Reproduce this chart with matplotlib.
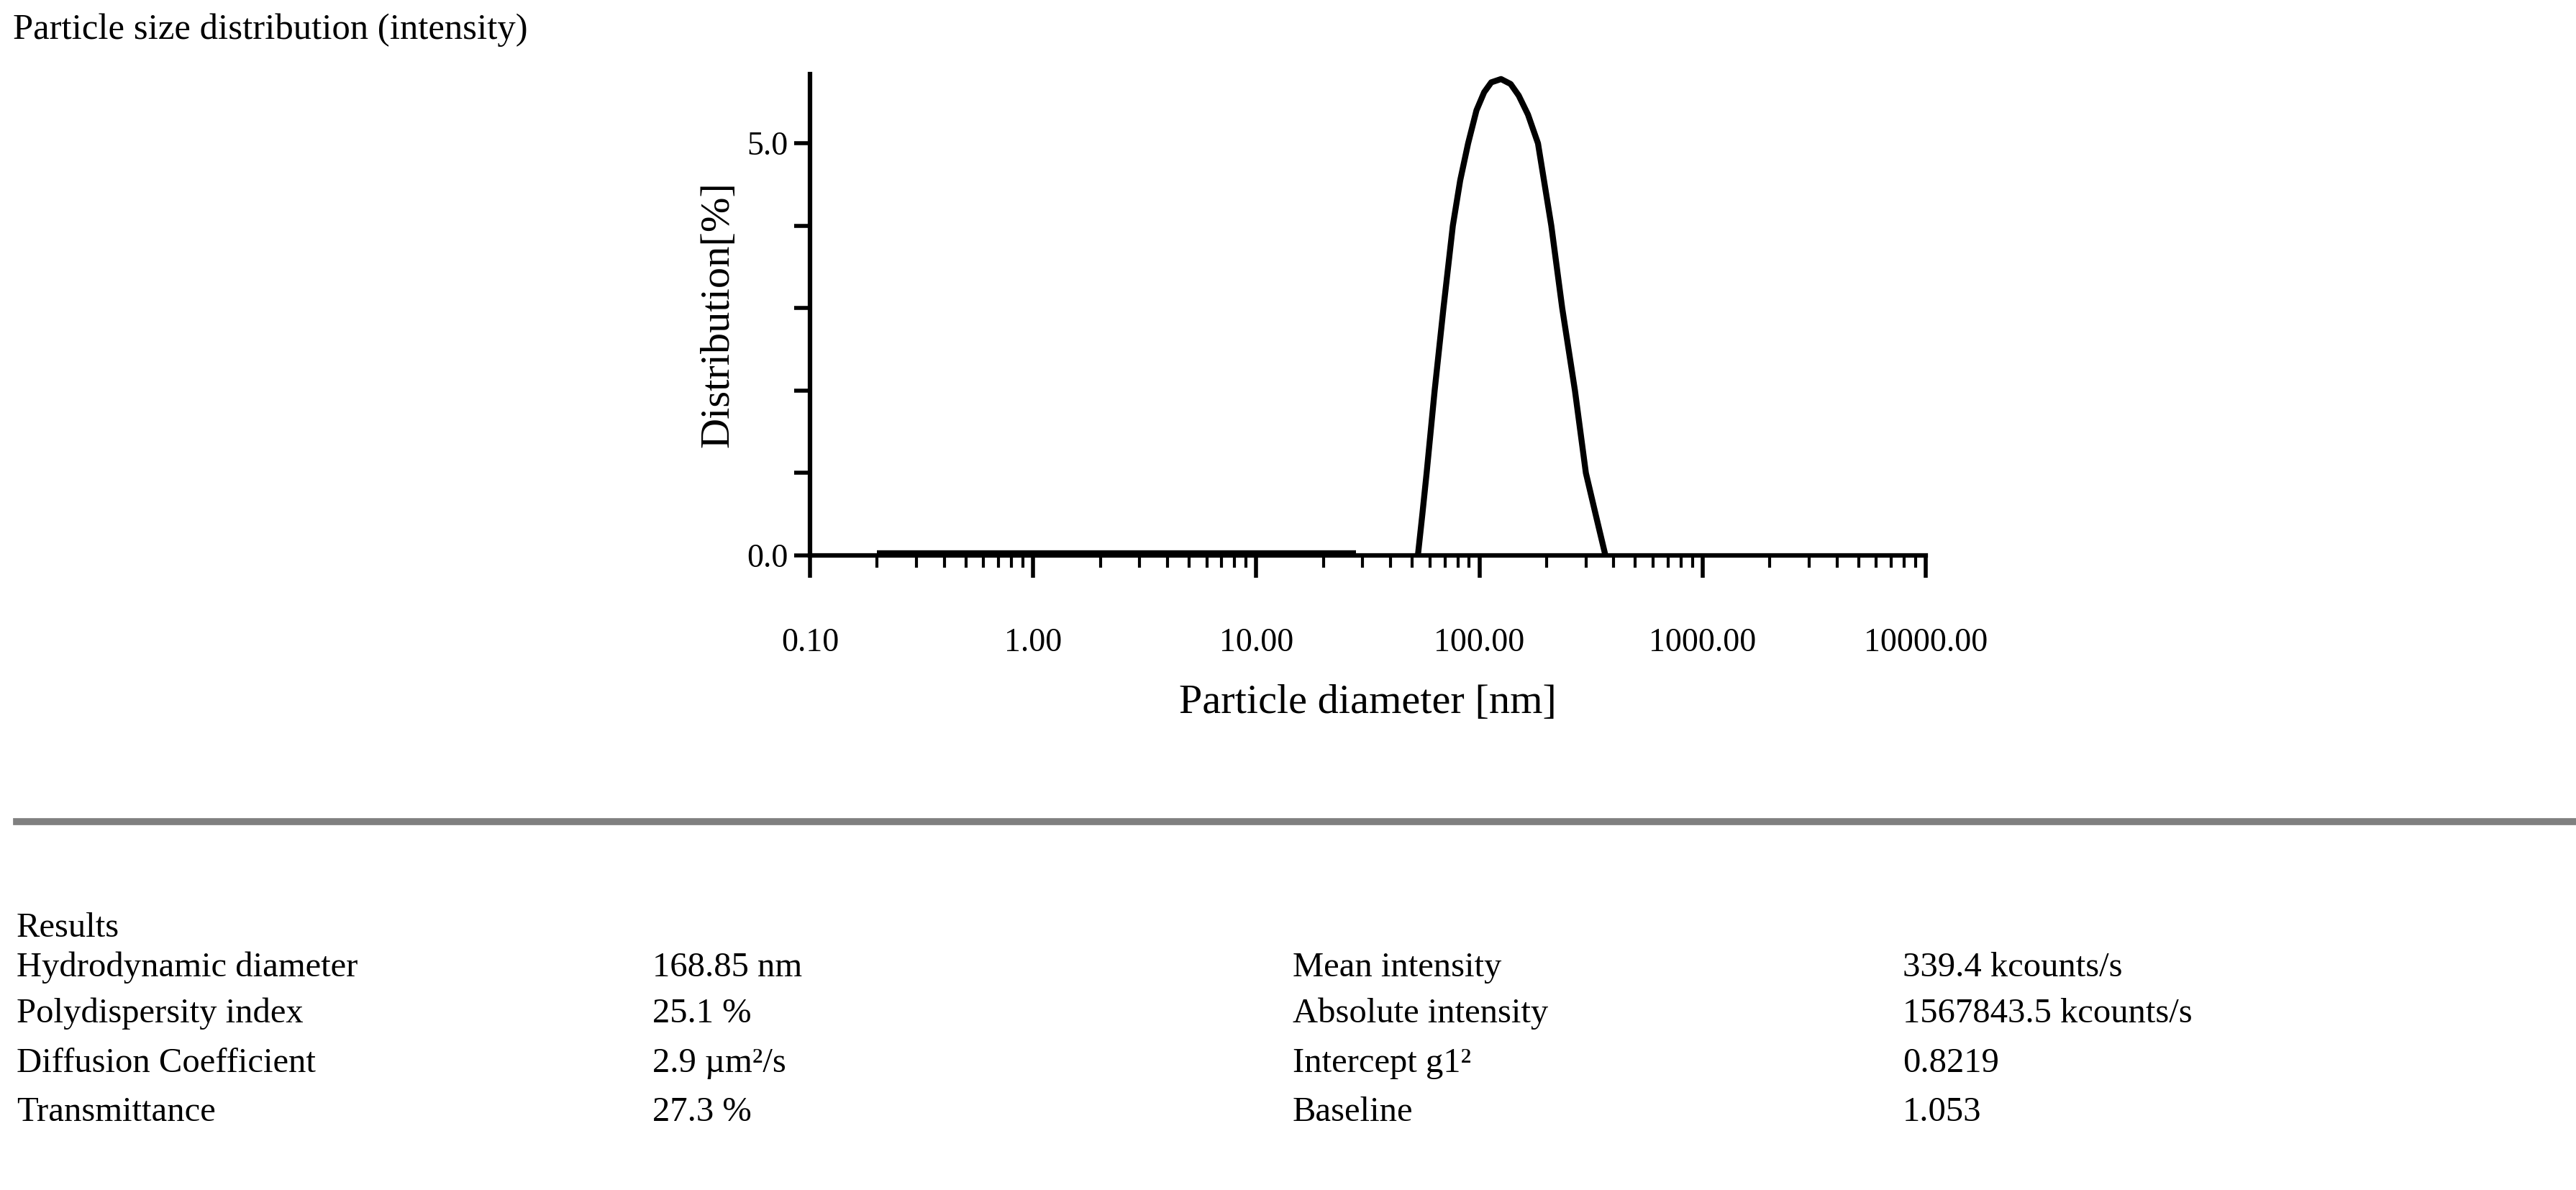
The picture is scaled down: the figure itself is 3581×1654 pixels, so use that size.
import numpy as np
import matplotlib
matplotlib.use("Agg")
import matplotlib.pyplot as plt
from matplotlib.ticker import LogLocator, NullFormatter, FixedLocator

# Data
peak_d = [53, 55.5, 58, 63, 69, 76, 82, 89, 97, 105, 113, 125, 138, 150, 165, 183, 210, 235, 268, 300, 335, 367]
peak_v = [0.0, 0.5, 1.0, 2.0, 3.0, 4.0, 4.55, 5.0, 5.4, 5.62, 5.74, 5.78, 5.72, 5.58, 5.35, 5.0, 4.0, 3.0, 2.0, 1.0, 0.45, 0.0]
low_d = [0.2, 28]
low_v = [0.03, 0.03]
zero_d = [28, 53, 367, 10000]
zero_v = [0.0, 0.0, 0.0, 0.0]
xtick_vals = [0.1, 1, 10, 100, 1000, 10000]
xtick_labels = ["0.10", "1.00", "10.00", "100.00", "1000.00", "10000.00"]
results = [
    ("Hydrodynamic diameter", "168.85 nm", "Mean intensity", "339.4 kcounts/s"),
    ("Polydispersity index", "25.1 %", "Absolute intensity", "1567843.5 kcounts/s"),
    ("Diffusion Coefficient", "2.9 µm²/s", "Intercept g1²", "0.8219"),
    ("Transmittance", "27.3 %", "Baseline", "1.053"),
]

plt.rcParams["font.family"] = "Liberation Serif"
W, H = 3581, 1654
fig = plt.figure(figsize=(W/100, H/100), dpi=100)
ax = fig.add_axes([1126/W, 1-772/H, (2677-1126)/W, (772-103)/H])
ax.plot(zero_d, zero_v, color="#222222", lw=3.5, solid_capstyle="butt")
ax.plot(low_d, low_v, color="black", lw=6, solid_capstyle="butt")
ax.plot(peak_d, peak_v, color="black", lw=6, solid_joinstyle="round")
ax.set_xscale("log")
ax.set_xlim(0.1, 10000)
ax.set_ylim(0, 5.84)
for s in ["top", "right"]:
    ax.spines[s].set_visible(False)
for s in ["left", "bottom"]:
    ax.spines[s].set_linewidth(4.5)
ax.xaxis.set_major_locator(FixedLocator(xtick_vals))
ax.set_xticklabels(xtick_labels)
ax.xaxis.set_minor_locator(LogLocator(base=10, subs=np.arange(2, 10)))
ax.xaxis.set_minor_formatter(NullFormatter())
ax.tick_params(axis="x", which="major", direction="out", length=22, width=4, labelsize=33, pad=50)
ax.tick_params(axis="x", which="minor", direction="out", length=12, width=3)
ax.set_yticks([0, 1, 2, 3, 4, 5])
ax.set_yticklabels(["0.0", "", "", "", "", "5.0"])
ax.tick_params(axis="y", direction="out", length=16, width=4, labelsize=33, pad=6)
ax.set_xlabel("Particle diameter [nm]", fontsize=42, labelpad=26)
ax.set_ylabel("Distribution[%]", fontsize=42, labelpad=10)

fig.text(18/W, 1-42/H, "Particle size distribution (intensity)", fontsize=36.5, va="center", ha="left")
fig.add_artist(plt.Line2D([23/W, 1], [1-1142/H, 1-1142/H], color="#808080", lw=7))
fig.text(23/W, 1-1290/H, "Results", fontsize=35, va="center")
rows_y = [1345, 1409, 1478, 1546]
cols_x = [23, 907, 1797, 2645]
for yy, row in zip(rows_y, results):
    for xx, t in zip(cols_x, row):
        fig.text(xx/W, 1-yy/H, t, fontsize=35, va="center", ha="left")

fig.savefig("out.png", dpi=100)
